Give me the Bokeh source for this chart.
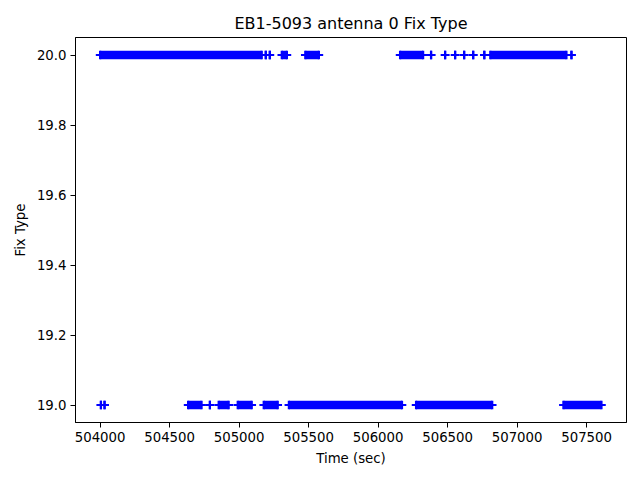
from bokeh.plotting import figure
from bokeh.models import Range1d, FixedTicker, BasicTickFormatter, PrintfTickFormatter, ColumnDataSource
from bokeh.embed import file_html
from bokeh.resources import INLINE

# Runs of constant fix type (start/end time in sec); start == end is a single epoch
fix20_start = [504000, 505192, 505221, 505307, 505476, 506158, 506381, 506482, 506554, 506619, 506684, 506764, 506807, 507391]
fix20_end   = [505163, 505192, 505221, 505344, 505574, 506324, 506381, 506482, 506554, 506619, 506684, 506764, 507355, 507391]
fix19_start = [504006, 504032, 504633, 504790, 504853, 504990, 505177, 505358, 506273, 507333]
fix19_end   = [504006, 504032, 504730, 504790, 504925, 505091, 505278, 506172, 506821, 507607]

x_ticks = [504000, 504500, 505000, 505500, 506000, 506500, 507000, 507500]
y_ticks = [19.0, 19.2, 19.4, 19.6, 19.8, 20.0]

FONT = "DejaVu Sans"
BLUE = "#0000ff"

p = figure(output_backend="svg", toolbar_location=None,
           frame_width=551, frame_height=385,
           x_range=Range1d(503823, 507787), y_range=Range1d(18.95, 20.05),
           title="EB1-5093 antenna 0 Fix Type")
p.min_border_left = 75
p.min_border_right = 6
p.min_border_top = 37
p.min_border_bottom = 50
p.background_fill_color = "white"
p.border_fill_color = "white"
p.outline_line_color = "black"
p.outline_line_width = 1
p.xgrid.visible = False
p.ygrid.visible = False

p.title.align = "center"
p.title.text_font = FONT
p.title.text_font_size = "16px"
p.title.text_font_style = "normal"
p.title.text_color = "black"
p.title.standoff = 10

for ax in (p.xaxis[0], p.yaxis[0]):
    ax.major_label_text_font = FONT
    ax.major_label_text_font_size = "13.3px"
    ax.major_label_text_color = "black"
    ax.axis_label_text_font = FONT
    ax.axis_label_text_font_size = "13.3px"
    ax.axis_label_text_font_style = "normal"
    ax.axis_label_text_color = "black"
    ax.major_tick_out = 5
    ax.major_tick_in = 0
    ax.minor_tick_out = 0
    ax.minor_tick_in = 0
    ax.axis_line_color = "black"
    ax.major_tick_line_color = "black"
    ax.major_label_standoff = 4
    ax.axis_label_standoff = 6

p.xaxis[0].ticker = FixedTicker(ticks=x_ticks)
p.xaxis[0].formatter = BasicTickFormatter(use_scientific=False)
p.xaxis[0].axis_label = "Time (sec)"
p.yaxis[0].ticker = FixedTicker(ticks=y_ticks)
p.yaxis[0].formatter = PrintfTickFormatter(format="%.1f")
p.yaxis[0].axis_label = "Fix Type"

def draw(starts, ends, level):
    src = ColumnDataSource(dict(x0=starts, x1=ends, y=[level] * len(starts)))
    p.segment(x0="x0", y0="y", x1="x1", y1="y", source=src,
              line_color=BLUE, line_width=8.3, line_cap="butt")
    pts = ColumnDataSource(dict(x=starts + ends, y=[level] * (2 * len(starts))))
    p.scatter(x="x", y="y", source=pts, marker="cross", size=8.6,
              line_color=BLUE, line_width=2.2)

draw(fix20_start, fix20_end, 20)
draw(fix19_start, fix19_end, 19)

open("out.html", "w").write(file_html(p, INLINE))
